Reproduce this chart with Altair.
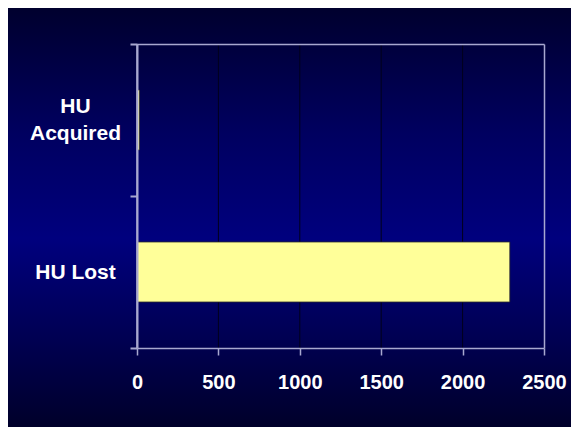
import altair as alt
import pandas as pd

categories = ["HU Acquired", "HU Lost"]
values = [15, 2290]
grid_values = [500, 1000, 1500, 2000]
x_ticks = [0, 500, 1000, 1500, 2000, 2500]

df = pd.DataFrame({"category": categories, "value": values})
grid_df = pd.DataFrame({"g": grid_values})

W, H = 407, 304
PAD = {"left": 129, "top": 36, "right": 27, "bottom": 79}
AXIS_GRAY = "#a8a8d0"

bg_gradient = alt.Gradient(
    gradient="linear",
    x1=0, y1=0, x2=0, y2=1,
    stops=[
        alt.GradientStop(color="#00002e", offset=0),
        alt.GradientStop(color="#000060", offset=0.3),
        alt.GradientStop(color="#00007e", offset=0.55),
        alt.GradientStop(color="#000050", offset=0.8),
        alt.GradientStop(color="#00002a", offset=1),
    ],
)

background = alt.Chart(df.head(1)).mark_rect(fill=bg_gradient, clip=False).encode(
    x=alt.value(-PAD["left"]),
    x2=alt.value(W + PAD["right"]),
    y=alt.value(-PAD["top"]),
    y2=alt.value(H + PAD["bottom"]),
)

x_scale = alt.Scale(domain=[0, 2500], nice=False, zero=True)
y_scale = alt.Scale(domain=categories, paddingInner=0, paddingOuter=0)

# grid lines (drawn under the bars) + top border as a domain-only top axis
grid = alt.Chart(grid_df).mark_rule(color="#00001c", strokeWidth=1).encode(
    x=alt.X(
        "g:Q",
        scale=x_scale,
        axis=alt.Axis(
            orient="top", title=None, labels=False, ticks=False, grid=False,
            domainColor=AXIS_GRAY, domainWidth=1.5, zindex=1,
        ),
    )
)

bars = alt.Chart(df).mark_bar(
    color="#ffff99",
    stroke="#2a2a2a",
    strokeWidth=0.8,
    height=alt.RelativeBandSize(band=0.395),
).encode(
    x=alt.X(
        "value:Q",
        scale=x_scale,
        axis=alt.Axis(
            title=None,
            values=x_ticks,
            format="d",
            grid=False,
            domainColor=AXIS_GRAY,
            domainWidth=1.5,
            tickColor=AXIS_GRAY,
            tickWidth=1.5,
            tickSize=7,
            labelColor="#ffffff",
            labelFont="Liberation Sans",
            labelFontSize=20,
            labelFontWeight="bold",
            labelPadding=17,
            labelFlush=False,
            zindex=2,
        ),
    ),
    y=alt.Y(
        "category:N",
        scale=y_scale,
        sort=categories,
        axis=alt.Axis(
            title=None,
            orient="left",
            tickBand="extent",
            domain=True,
            domainColor=AXIS_GRAY,
            domainWidth=2,
            tickColor=AXIS_GRAY,
            tickWidth=2,
            tickSize=7,
            labelColor="#ffffff",
            labelFont="Liberation Sans",
            labelFontSize=21,
            labelFontWeight="bold",
            labelAlign="center",
            labelBaseline="middle",
            labelLineHeight=27,
            labelPadding=55,
            labelOffset={"condition": {"test": "datum.value == 'HU Acquired'", "value": -14}, "value": 0},
            labelExpr="datum.label == 'HU Acquired' ? ['HU', 'Acquired'] : datum.label",
            zindex=2,
        ),
    ),
)

# zero line (left edge of the plot) drawn through the x scale
zero_line = alt.Chart(df.head(1)).mark_rule(color=AXIS_GRAY, strokeWidth=1.5).encode(
    x=alt.datum(0, scale=x_scale, axis=None)
)

# right border as a domain-only right axis
right_border = alt.Chart(df).mark_bar(opacity=0).encode(
    x=alt.X("value:Q", scale=x_scale, axis=None),
    y=alt.Y(
        "category:N",
        scale=y_scale,
        sort=categories,
        axis=alt.Axis(
            orient="right", title=None, labels=False, ticks=False, grid=False,
            domainColor=AXIS_GRAY, domainWidth=1.5, zindex=1,
        ),
    ),
)

chart = alt.layer(background, grid, bars, zero_line, right_border).resolve_axis(
    x="independent", y="independent"
).properties(
    width=W,
    height=H,
    padding=PAD,
    autosize=alt.AutoSizeParams(type="none"),
    background="#000040",
).configure_view(
    strokeWidth=0,
)

chart.save("out.html", embed_options={"renderer": "svg", "actions": False})
